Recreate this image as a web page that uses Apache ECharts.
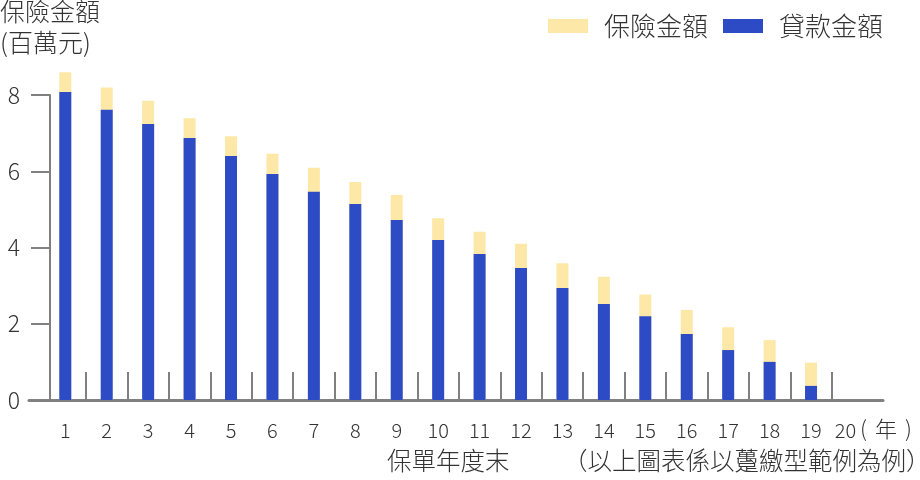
<!DOCTYPE html>
<html>
<head>
<meta charset="utf-8">
<script src="https://cdn.jsdelivr.net/npm/echarts@6/dist/echarts.min.js"></script>
<style>html,body{margin:0;padding:0;background:#fff;}#c{width:920px;height:480px;}</style>
</head>
<body>
<div id="c"></div>
<script>
// ---- data ----
const years = [1,2,3,4,5,6,7,8,9,10,11,12,13,14,15,16,17,18,19,20];
const insuranceAmount = [8.60,8.20,7.85,7.39,6.92,6.46,6.09,5.72,5.38,4.77,4.41,4.10,3.59,3.23,2.77,2.36,1.91,1.57,0.98,0];
const loanAmount      = [8.08,7.61,7.24,6.87,6.40,5.93,5.46,5.14,4.72,4.20,3.83,3.46,2.94,2.52,2.20,1.73,1.31,1.00,0.37,0];
const yTicks = [0,2,4,6,8];
const xTickBoundaries = [1.5,2.5,3.5,4.5,5.5,6.5,7.5,8.5,9.5,10.5,11.5,12.5,13.5,14.5,15.5,16.5,17.5,18.5,19.5];
const seriesNames = ['保險金額','貸款金額'];
const yTitle = '保險金額\n(百萬元)';
const xTitle = '保單年度末';
const xUnitChar = '年';
const footnote = '（以上圖表係以躉繳型範例為例）';

const FONT = '"Noto Sans CJK TC", "Noto Sans", sans-serif';
const TXT = '#333333';
const AX = '#808080';
const FW = 300;

const chart = echarts.init(document.getElementById('c'), null, {renderer:'canvas'});
chart.setOption({
  animation: false,
  textStyle: { fontFamily: FONT },
  title: [
    { text: yTitle, left: 0, top: -4, padding: 0,
      textStyle: { fontFamily: FONT, fontSize: 25, fontWeight: FW, color: TXT, lineHeight: 31 } },
    { text: xTitle, left: 387, top: 448, padding: 0,
      textStyle: { fontFamily: FONT, fontSize: 24.5, fontWeight: FW, color: TXT } },
    { text: footnote, left: 563, top: 448, padding: 0,
      textStyle: { fontFamily: FONT, fontSize: 24.5, fontWeight: FW, color: TXT } },
    { text: '({n|' + xUnitChar + '})', left: 860, top: 418, padding: 0,
      textStyle: { fontFamily: FONT, fontSize: 22, fontWeight: FW, color: TXT,
        rich: { n: { fontFamily: FONT, fontSize: 22, fontWeight: FW, color: TXT, padding: [0, 8, 0, 8] } } } }
  ],
  legend: {
    data: seriesNames,
    right: 37, top: 13, padding: 0,
    itemWidth: 40, itemHeight: 14, itemGap: 15,
    icon: 'rect',
    textStyle: { fontFamily: FONT, fontSize: 26, fontWeight: FW, color: TXT, padding: [0,0,0,11] }
  },
  grid: { left: 29, right: 37, top: 95, bottom: 80, containLabel: false },
  xAxis: {
    type: 'value',
    min: 0.124, max: 20.737,
    axisLine: { show: true, onZero: false, lineStyle: { color: AX, width: 3 } },
    axisTick: { show: true, inside: true, length: 28, customValues: xTickBoundaries,
      lineStyle: { color: AX, width: 2 } },
    axisLabel: { show: true, customValues: years, margin: 20,
      fontFamily: FONT, fontSize: 20, fontWeight: FW, color: TXT,
      formatter: v => (v === years[years.length - 1] ? '{s|' + v + '}' : String(v)),
      rich: { s: { fontFamily: FONT, fontSize: 20, fontWeight: FW, color: TXT, padding: [0, 14, 0, 0] } } },
    splitLine: { show: false }
  },
  yAxis: {
    type: 'value',
    min: 0, max: 8, interval: 2,
    offset: -21,
    axisLine: { show: true, onZero: false, lineStyle: { color: AX, width: 2 } },
    axisTick: { show: true, length: 19, lineStyle: { color: AX, width: 2 } },
    axisLabel: { margin: 30, fontFamily: FONT, fontSize: 23, fontWeight: FW, color: TXT,
      customValues: yTicks },
    splitLine: { show: false }
  },
  series: [
    { name: seriesNames[0], type: 'bar', barWidth: 12, barGap: '-100%', clip: false,
      itemStyle: { color: '#FDE8A8' },
      data: years.map((y, i) => [y, insuranceAmount[i]]) },
    { name: seriesNames[1], type: 'bar', barWidth: 12, barGap: '-100%', clip: false,
      itemStyle: { color: '#2E4BC6' },
      data: years.map((y, i) => [y, loanAmount[i]]) }
  ]
});
</script>
</body>
</html>
